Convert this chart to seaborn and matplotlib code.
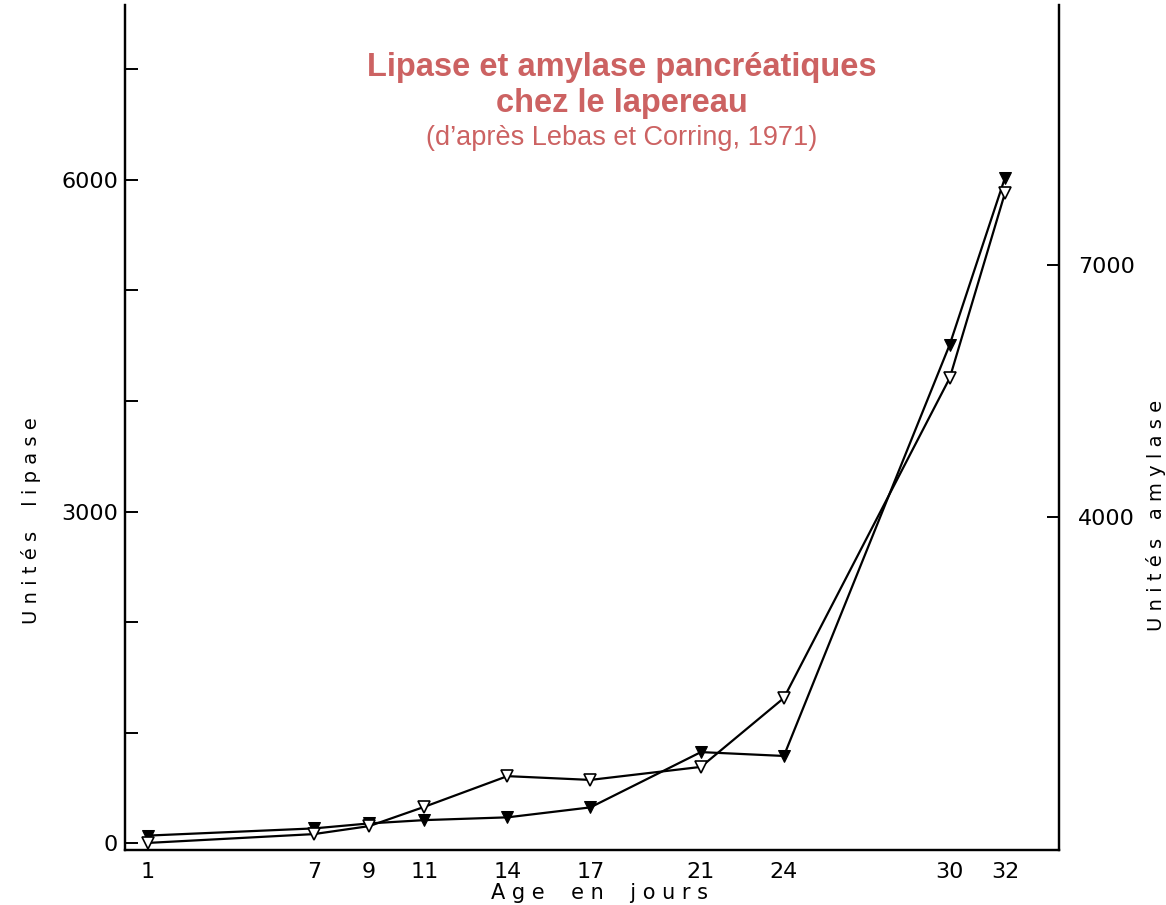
import numpy as np
import matplotlib
matplotlib.use('Agg')
import matplotlib.pyplot as plt
import seaborn as sns

# values
days = [1, 7, 9, 11, 14, 17, 21, 24, 30, 32]
lipase = [70, 135, 180, 210, 235, 325, 825, 790, 4510, 6020]      # filled triangles, left axis
amylase = [120, 225, 320, 550, 915, 870, 1025, 1845, 5655, 7860]  # open triangles, right axis

left_labels = {0: '0', 3000: '3000', 6000: '6000'}
right_ticks = [4000, 7000]

title_color = '#cc6262'

sns.set_style('white')
plt.rcParams['font.family'] = ['DejaVu Sans']

fig = plt.figure(figsize=(11.66, 9.05), dpi=100)
ax = fig.add_axes([0.1072, 0.0608, 0.801, 0.9337])
ax2 = ax.twinx()

sns.lineplot(x=days, y=lipase, ax=ax, color='black', linewidth=1.6,
             marker='v', markersize=8, markerfacecolor='black',
             markeredgecolor='black', zorder=3)
sns.lineplot(x=days, y=amylase, ax=ax2, color='black', linewidth=1.6,
             marker='v', markersize=9, markerfacecolor='white',
             markeredgecolor='black', markeredgewidth=1.2, zorder=3)

ax.set_xlim(0.17, 33.95)
ax.set_ylim(-60, 7580)
ax2.set_ylim(36, 10095)

ax.set_xticks(days)
ax.set_xticklabels([str(d) for d in days], fontsize=16, color='black')
yt = np.arange(0, 7001, 1000)
ax.set_yticks(yt)
ax.set_yticklabels([left_labels.get(v, '') for v in yt], fontsize=16, color='black')
ax2.set_yticks(right_ticks)
ax2.set_yticklabels([str(v) for v in right_ticks], fontsize=16, color='black')

for a in (ax, ax2):
    a.spines['top'].set_visible(False)
    for s in ('left', 'right', 'bottom'):
        a.spines[s].set_linewidth(1.6)
        a.spines[s].set_color('black')
ax.tick_params(axis='x', direction='in', length=7, width=1.4, pad=9, colors='black')
ax.tick_params(axis='y', direction='in', length=9, width=1.4, pad=5, colors='black')
ax2.tick_params(axis='y', direction='in', length=9, width=1.4, pad=14, colors='black')

# axis titles, placed as in the scan
fig.text(0.514, 0.013, 'A g e    e n    j o u r s', ha='center', va='center',
         fontsize=15, color='black')
fig.text(0.027, 0.425, 'U n i t é s    l i p a s e', ha='center', va='center',
         rotation=90, fontsize=14, color='black')
fig.text(0.991, 0.43, 'U n i t é s   a m y l a s e', ha='center', va='center',
         rotation=90, fontsize=14, color='black')

fig.text(0.533, 0.925, 'Lipase et amylase pancréatiques', ha='center', va='center',
         fontsize=23.5, fontweight='bold', color=title_color, family='Liberation Sans')
fig.text(0.533, 0.886, 'chez le lapereau', ha='center', va='center',
         fontsize=23.5, fontweight='bold', color=title_color, family='Liberation Sans')
fig.text(0.533, 0.847, '(d’après Lebas et Corring, 1971)', ha='center', va='center',
         fontsize=19.5, color=title_color, family='Liberation Sans')

fig.savefig('out.png', dpi=100, facecolor='white')
